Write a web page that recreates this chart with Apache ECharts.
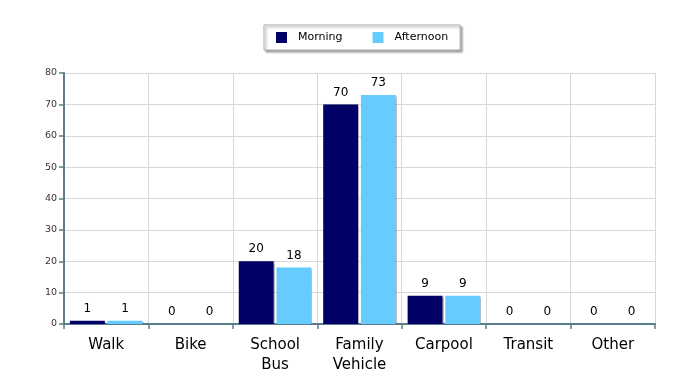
<!DOCTYPE html>
<html><head><meta charset="utf-8">
<script src="https://cdn.jsdelivr.net/npm/echarts@6/dist/echarts.min.js"></script>
<style>html,body{margin:0;padding:0;background:#fff}#c{width:687px;height:392px}</style>
</head><body><div id="c"></div>
<script>
var categories = ["Walk","Bike","School\nBus","Family\nVehicle","Carpool","Transit","Other"];
var morning = [1,0,20,70,9,0,0];
var afternoon = [1,0,18,73,9,0,0];
var seriesNames = ["Morning","Afternoon"];
var chart = echarts.init(document.getElementById('c'));
var font = "DejaVu Sans";
var labelStyle = {show:true, position:'top', distance:6, color:'#000', fontFamily:font, fontSize:12};
var barShadow = {shadowColor:'rgba(0,0,0,0.25)', shadowBlur:1, shadowOffsetX:1, shadowOffsetY:0};
chart.setOption({
  animation:false,
  textStyle:{fontFamily:font},
  legend:{
    top:25, left:264, itemWidth:11, itemHeight:11, itemGap:30, icon:'rect',
    padding:[7,12,7,12], borderColor:'#aaa', borderWidth:1, backgroundColor:'#fff',
    shadowColor:'rgba(0,0,0,0.35)', shadowBlur:2, shadowOffsetX:2, shadowOffsetY:2,
    textStyle:{fontFamily:font, fontSize:11, color:'#000', padding:[0,0,0,6]},
    data:seriesNames
  },
  grid:{left:64, right:32, top:73, bottom:68},
  xAxis:{
    type:'category', data:categories,
    axisLine:{lineStyle:{color:'#5a7e8e', width:2}},
    axisTick:{show:true, length:5, lineStyle:{color:'#5a7e8e', width:1.5}},
    axisLabel:{color:'#000', fontFamily:font, fontSize:15, lineHeight:20, margin:11},
    splitLine:{show:true, lineStyle:{color:'#d8d8d8', width:1}}
  },
  yAxis:{
    type:'value', min:0, max:80, interval:10,
    axisLine:{show:true, lineStyle:{color:'#5a7e8e', width:2}},
    axisTick:{show:true, length:5, lineStyle:{color:'#5a7e8e', width:1.5}},
    axisLabel:{color:'#333', fontFamily:font, fontSize:9.5, margin:7},
    splitLine:{show:true, lineStyle:{color:'#d8d8d8', width:1}}
  },
  series:[
    {name:seriesNames[0], type:'bar', data:morning, itemStyle:Object.assign({color:'#000066'}, barShadow), barGap:'8%', barCategoryGap:'14%', label:labelStyle},
    {name:seriesNames[1], type:'bar', data:afternoon, itemStyle:Object.assign({color:'#66ccff'}, barShadow), label:labelStyle}
  ]
});
</script></body></html>
